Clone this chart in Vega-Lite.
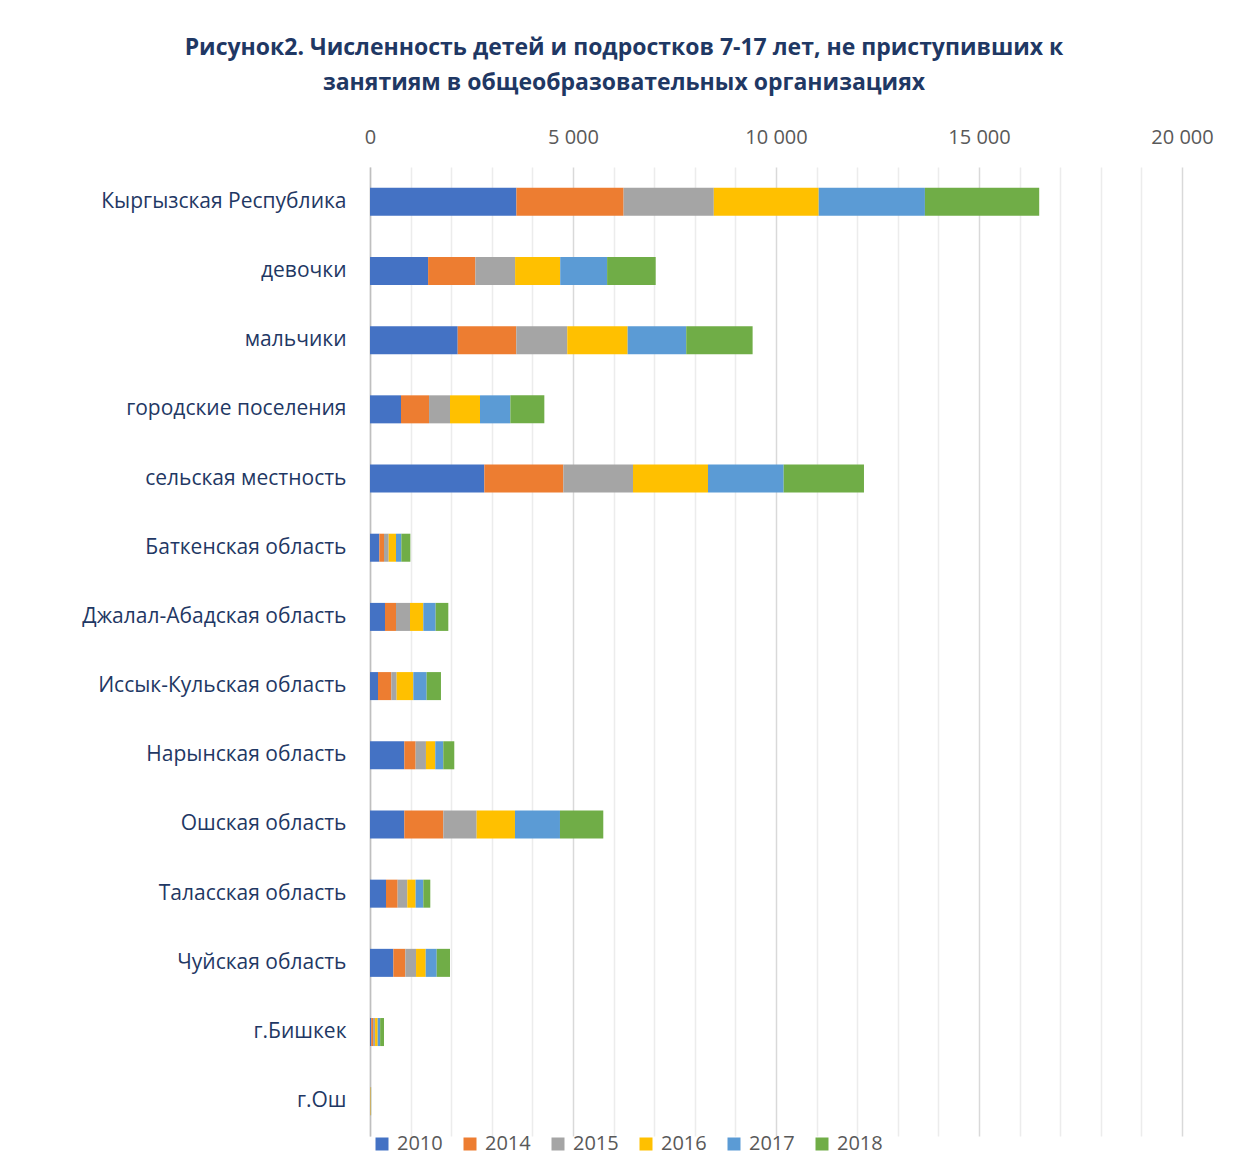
{
  "$schema": "https://vega.github.io/schema/vega-lite/v6.json",
  "autosize": "none",
  "width": 812,
  "height": 969,
  "padding": {"left": 370, "top": 167, "right": 57, "bottom": 37},
  "background": "white",
  "title": {
    "text": ["Рисунок2. Численность детей и подростков 7-17 лет, не приступивших к", "занятиям в общеобразовательных организациях"],
    "font": "Open Sans",
    "fontSize": 23,
    "fontWeight": "bold",
    "color": "#1F3864",
    "anchor": "middle",
    "frame": "group",
    "dx": -152,
    "lineHeight": 35,
    "offset": 32
  },
  "data": {
    "values": [
      {"region": "Кыргызская Республика", "year": "2010", "value": 3606},
      {"region": "Кыргызская Республика", "year": "2014", "value": 2640},
      {"region": "Кыргызская Республика", "year": "2015", "value": 2222},
      {"region": "Кыргызская Республика", "year": "2016", "value": 2584},
      {"region": "Кыргызская Республика", "year": "2017", "value": 2616},
      {"region": "Кыргызская Республика", "year": "2018", "value": 2815},
      {"region": "девочки", "year": "2010", "value": 1431},
      {"region": "девочки", "year": "2014", "value": 1165},
      {"region": "девочки", "year": "2015", "value": 978},
      {"region": "девочки", "year": "2016", "value": 1111},
      {"region": "девочки", "year": "2017", "value": 1155},
      {"region": "девочки", "year": "2018", "value": 1197},
      {"region": "мальчики", "year": "2010", "value": 2160},
      {"region": "мальчики", "year": "2014", "value": 1443},
      {"region": "мальчики", "year": "2015", "value": 1256},
      {"region": "мальчики", "year": "2016", "value": 1487},
      {"region": "мальчики", "year": "2017", "value": 1443},
      {"region": "мальчики", "year": "2018", "value": 1635},
      {"region": "городские поселения", "year": "2010", "value": 764},
      {"region": "городские поселения", "year": "2014", "value": 690},
      {"region": "городские поселения", "year": "2015", "value": 517},
      {"region": "городские поселения", "year": "2016", "value": 739},
      {"region": "городские поселения", "year": "2017", "value": 747},
      {"region": "городские поселения", "year": "2018", "value": 837},
      {"region": "сельская местность", "year": "2010", "value": 2816},
      {"region": "сельская местность", "year": "2014", "value": 1946},
      {"region": "сельская местность", "year": "2015", "value": 1716},
      {"region": "сельская местность", "year": "2016", "value": 1847},
      {"region": "сельская местность", "year": "2017", "value": 1864},
      {"region": "сельская местность", "year": "2018", "value": 1978},
      {"region": "Баткенская область", "year": "2010", "value": 230},
      {"region": "Баткенская область", "year": "2014", "value": 115},
      {"region": "Баткенская область", "year": "2015", "value": 115},
      {"region": "Баткенская область", "year": "2016", "value": 181},
      {"region": "Баткенская область", "year": "2017", "value": 131},
      {"region": "Баткенская область", "year": "2018", "value": 222},
      {"region": "Джалал-Абадская область", "year": "2010", "value": 369},
      {"region": "Джалал-Абадская область", "year": "2014", "value": 271},
      {"region": "Джалал-Абадская область", "year": "2015", "value": 345},
      {"region": "Джалал-Абадская область", "year": "2016", "value": 328},
      {"region": "Джалал-Абадская область", "year": "2017", "value": 304},
      {"region": "Джалал-Абадская область", "year": "2018", "value": 312},
      {"region": "Иссык-Кульская область", "year": "2010", "value": 197},
      {"region": "Иссык-Кульская область", "year": "2014", "value": 328},
      {"region": "Иссык-Кульская область", "year": "2015", "value": 131},
      {"region": "Иссык-Кульская область", "year": "2016", "value": 411},
      {"region": "Иссык-Кульская область", "year": "2017", "value": 328},
      {"region": "Иссык-Кульская область", "year": "2018", "value": 353},
      {"region": "Нарынская область", "year": "2010", "value": 845},
      {"region": "Нарынская область", "year": "2014", "value": 279},
      {"region": "Нарынская область", "year": "2015", "value": 254},
      {"region": "Нарынская область", "year": "2016", "value": 230},
      {"region": "Нарынская область", "year": "2017", "value": 197},
      {"region": "Нарынская область", "year": "2018", "value": 271},
      {"region": "Ошская область", "year": "2010", "value": 845},
      {"region": "Ошская область", "year": "2014", "value": 961},
      {"region": "Ошская область", "year": "2015", "value": 821},
      {"region": "Ошская область", "year": "2016", "value": 944},
      {"region": "Ошская область", "year": "2017", "value": 1108},
      {"region": "Ошская область", "year": "2018", "value": 1067},
      {"region": "Таласская область", "year": "2010", "value": 394},
      {"region": "Таласская область", "year": "2014", "value": 287},
      {"region": "Таласская область", "year": "2015", "value": 238},
      {"region": "Таласская область", "year": "2016", "value": 205},
      {"region": "Таласская область", "year": "2017", "value": 189},
      {"region": "Таласская область", "year": "2018", "value": 172},
      {"region": "Чуйская область", "year": "2010", "value": 575},
      {"region": "Чуйская область", "year": "2014", "value": 296},
      {"region": "Чуйская область", "year": "2015", "value": 263},
      {"region": "Чуйская область", "year": "2016", "value": 238},
      {"region": "Чуйская область", "year": "2017", "value": 271},
      {"region": "Чуйская область", "year": "2018", "value": 328},
      {"region": "г.Бишкек", "year": "2010", "value": 30},
      {"region": "г.Бишкек", "year": "2014", "value": 45},
      {"region": "г.Бишкек", "year": "2015", "value": 50},
      {"region": "г.Бишкек", "year": "2016", "value": 65},
      {"region": "г.Бишкек", "year": "2017", "value": 60},
      {"region": "г.Бишкек", "year": "2018", "value": 95},
      {"region": "г.Ош", "year": "2010", "value": 3},
      {"region": "г.Ош", "year": "2014", "value": 5},
      {"region": "г.Ош", "year": "2015", "value": 5},
      {"region": "г.Ош", "year": "2016", "value": 10},
      {"region": "г.Ош", "year": "2017", "value": 3},
      {"region": "г.Ош", "year": "2018", "value": 2}
    ]
  },
  "mark": {"type": "bar"},
  "encoding": {
    "y": {
      "field": "region",
      "type": "nominal",
      "sort": null,
      "title": null,
      "scale": {"paddingInner": 0.595, "paddingOuter": 0.3},
      "axis": {
        "domain": true,
        "domainColor": "#bfbfbf",
        "domainWidth": 1.5,
        "ticks": false,
        "grid": false,
        "labelFont": "Open Sans",
        "labelFontSize": 21,
        "labelColor": "#1F3864",
        "labelPadding": 24,
        "labelLimit": 400
      }
    },
    "x": {
      "field": "value",
      "type": "quantitative",
      "stack": "zero",
      "title": null,
      "scale": {"domain": [0, 20000], "nice": false},
      "axis": {
        "orient": "top",
        "values": [0, 1000, 2000, 3000, 4000, 5000, 6000, 7000, 8000, 9000, 10000, 11000, 12000, 13000, 14000, 15000, 16000, 17000, 18000, 19000, 20000],
        "labelExpr": "datum.value % 5000 === 0 ? replace(format(datum.value, ','), ',', ' ') : ''",
        "domain": false,
        "ticks": false,
        "grid": true,
        "gridColor": {"condition": {"test": "datum.value % 5000 === 0", "value": "#d9d9d9"}, "value": "#ececec"},
        "gridWidth": 1.5,
        "labelFont": "Open Sans",
        "labelFontSize": 20,
        "labelColor": "#595959",
        "labelPadding": 20,
        "labelFlush": false,
        "labelOverlap": false
      }
    },
    "color": {
      "field": "year",
      "type": "nominal",
      "title": null,
      "scale": {
        "domain": ["2010", "2014", "2015", "2016", "2017", "2018"],
        "range": ["#4472C4", "#ED7D31", "#A5A5A5", "#FFC000", "#5B9BD5", "#70AD47"]
      },
      "legend": {
        "orient": "none",
        "direction": "horizontal",
        "legendX": 2,
        "legendY": 967,
        "symbolType": "square",
        "symbolSize": 169,
        "symbolStrokeWidth": 0,
        "labelFont": "Open Sans",
        "labelFontSize": 20,
        "labelColor": "#595959",
        "labelOffset": 5,
        "columnPadding": 17
      }
    },
    "order": {"field": "year", "type": "ordinal"}
  },
  "config": {
    "view": {"stroke": null}
  }
}
